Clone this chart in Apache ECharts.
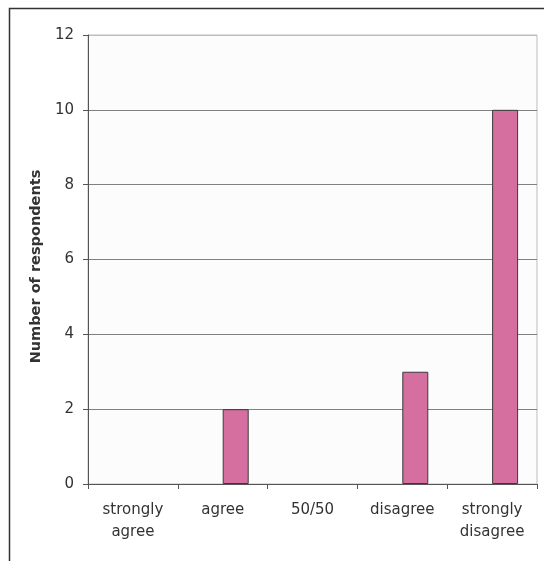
<!DOCTYPE html>
<html>
<head>
<meta charset="utf-8">
<script src="https://cdn.jsdelivr.net/npm/echarts@6/dist/echarts.min.js"></script>
<style>
  html, body { margin: 0; padding: 0; background: #ffffff; }
  #chart { width: 544px; height: 561px; }
</style>
</head>
<body>
<div id="chart"></div>
<script>
// Survey responses per answer option
var categories = ['strongly\nagree', 'agree', '50/50', 'disagree', 'strongly\ndisagree'];
var respondents = [0, 2, 0, 3, 10];
// empty companion series that occupies the left slot of each cluster
var placeholder = [null, null, null, null, null];
var yTicks = { min: 0, max: 12, interval: 2 };

var FONT = 'DejaVu Sans, Liberation Sans, sans-serif';

// zero counts draw no visible bar (no outline either)
var barData = respondents.map(function (v) {
  return v === 0 ? { value: v, itemStyle: { borderWidth: 0, color: 'transparent' } } : v;
});

var chart = echarts.init(document.getElementById('chart'), null, { renderer: 'canvas' });

chart.setOption({
  backgroundColor: '#ffffff',
  animation: false,
  textStyle: { fontFamily: FONT },
  graphic: [{
    type: 'rect',
    left: 7, top: 6,
    shape: { width: 620, height: 620 },
    style: { fill: 'none', stroke: '#333333', lineWidth: 1.5 },
    silent: true
  }],
  grid: {
    left: 88, top: 35, right: 7, bottom: 77,
    show: true,
    backgroundColor: '#fcfcfc',
    borderColor: '#bdbdbd',
    borderWidth: 1
  },
  xAxis: {
    type: 'category',
    data: categories,
    boundaryGap: true,
    axisLine: { show: true, lineStyle: { color: '#555555', width: 1 } },
    axisTick: { show: true, length: 5, inside: false, lineStyle: { color: '#555555' } },
    axisLabel: {
      color: '#333333', fontSize: 15, lineHeight: 22, margin: 15,
      fontFamily: FONT, interval: 0
    },
    splitLine: { show: false }
  },
  yAxis: {
    type: 'value',
    min: yTicks.min, max: yTicks.max, interval: yTicks.interval,
    name: 'Number of respondents',
    nameLocation: 'middle',
    nameGap: 44,
    nameRotate: 90,
    nameTextStyle: {
      color: '#333333', fontSize: 14.5, fontWeight: 'bold',
      fontFamily: FONT,
      padding: [0, 14, 0, 0]
    },
    axisLine: { show: true, lineStyle: { color: '#555555', width: 1 } },
    axisTick: { show: true, length: 5, inside: false, lineStyle: { color: '#555555' } },
    axisLabel: {
      color: '#333333', fontSize: 15, margin: 14,
      fontFamily: FONT
    },
    splitLine: {
      show: true,
      lineStyle: {
        color: ['#808080', '#808080', '#808080', '#808080', '#808080', '#808080', '#bdbdbd'],
        width: 1
      }
    }
  },
  series: [
    {
      name: 'blank',
      type: 'bar',
      data: placeholder,
      barWidth: 26,
      barGap: '0%',
      itemStyle: { color: 'transparent' }
    },
    {
      name: 'respondents',
      type: 'bar',
      data: barData,
      barWidth: 26,
      barGap: '0%',
      itemStyle: { color: '#d56f9f', borderColor: '#3a3a3a', borderWidth: 1 }
    }
  ]
});
</script>
</body>
</html>
